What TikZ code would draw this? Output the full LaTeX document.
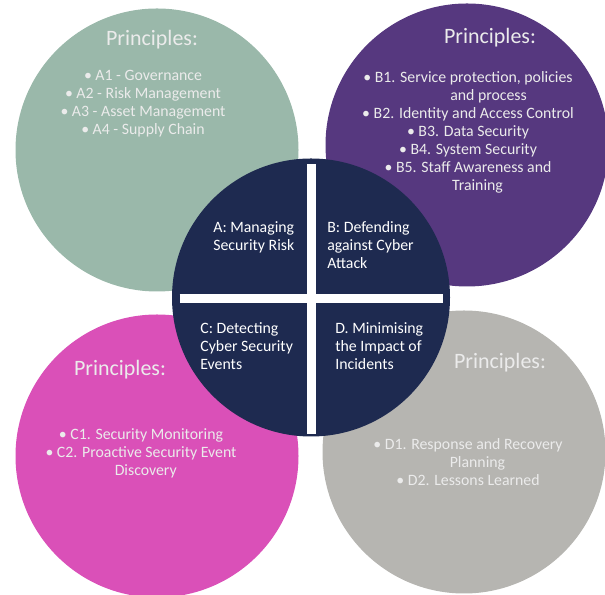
\documentclass[tikz,border=0pt]{standalone}
\usepackage{fontspec}
\setmainfont{Carlito}
\usepackage{tikz}

\definecolor{govgreen}{HTML}{9AB8AA}
\definecolor{defpurple}{HTML}{56387F}
\definecolor{detpink}{HTML}{DA50B8}
\definecolor{mingray}{HTML}{B6B5B1}
\definecolor{corenavy}{HTML}{1E2A50}

\begin{document}
\begin{tikzpicture}
		\tikzstyle{petal}=[circle, inner sep=0pt, minimum size=5.66cm]
		\tikzstyle{heading}=[text=white!92!black, font=\fontsize{12.5}{14}\selectfont]
		\tikzstyle{items}=[text=white!92!black, align=center, font=\fontsize{9}{10.2}\selectfont]
		\tikzstyle{quarter}=[text=white, align=left, anchor=north west, inner sep=0pt, font=\fontsize{9}{10.2}\selectfont]
		\tikzstyle{bar}=[white, line width=0.18cm]
		\useasboundingbox (0,0) rectangle (12.1,11.9);

		% outer circles
		\node[petal, fill=govgreen] (Gov) at (3.14,8.90) {};
		\node[petal, fill=defpurple] (Def) at (9.34,9.00) {};
		\node[petal, fill=detpink] (Det) at (3.14,2.78) {};
		\node[petal, fill=mingray] (Min) at (9.28,2.86) {};

		% centre circle and cross
		\node[circle, fill=corenavy, inner sep=0pt, minimum size=5.56cm] (Core) at (6.22,5.95) {};
		\draw[bar] ([yshift=-0.12cm]Core.north) -- ([yshift=0.06cm]Core.south);
		\draw[bar] ([xshift=0.16cm, yshift=-0.03cm]Core.west) -- ([xshift=-0.14cm, yshift=-0.03cm]Core.east);

		\node[quarter] (QA) at (4.26,7.48) {A: Managing\\Security Risk};
		\node[quarter] (QB) at (6.54,7.48) {B: Defending\\against Cyber\\Attack};
		\node[quarter] (QC) at (4.00,5.46) {C: Detecting\\Cyber Security\\Events};
		\node[quarter] (QD) at (6.70,5.46) {D. Minimising\\the Impact of\\Incidents};

		% principles in each circle
		\node[heading] (GovHead) at (3.04,11.10) {Principles:};
		\node[items] (GovList) at (2.86,9.82) {%
			• A1 - Governance\\
			• A2 - Risk Management\\
			• A3 - Asset Management\\
			• A4 - Supply Chain};

		\node[heading] (DefHead) at (9.80,11.14) {Principles:};
		\node[items] (DefList) at (9.36,9.25) {%
			• B1. Service protection, policies\\
			\hspace*{2.6em}and process\\
			• B2. Identity and Access Control\\
			• B3. Data Security\\
			• B4. System Security\\
			• B5. Staff Awareness and\\
			\hspace*{1.2em}Training};

		\node[heading] (DetHead) at (2.40,4.50) {Principles:};
		\node[items] (DetList) at (2.82,2.84) {%
			• C1. Security Monitoring\\
			• C2. Proactive Security Event\\
			\hspace*{0.6em}Discovery};

		\node[heading] (MinHead) at (10.00,4.64) {Principles:};
		\node[items] (MinList) at (9.36,2.66) {%
			• D1. Response and Recovery\\
			\hspace*{1.2em}Planning\\
			• D2. Lessons Learned};
\end{tikzpicture}
\end{document}
